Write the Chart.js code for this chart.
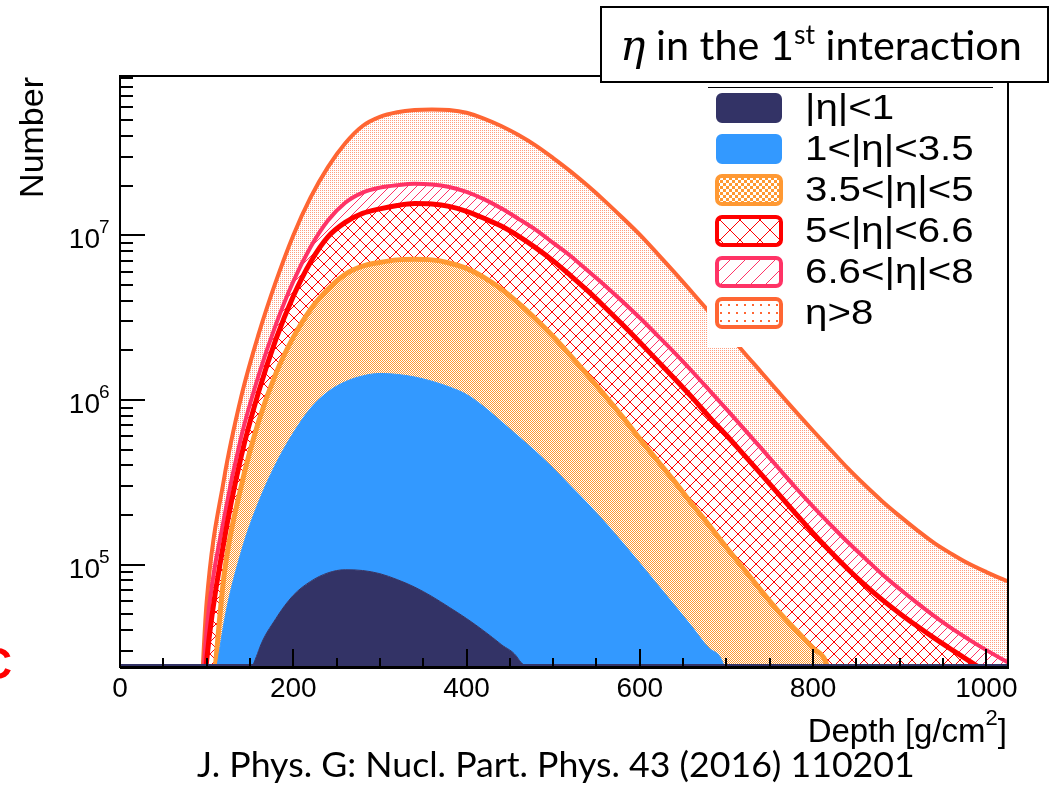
<!DOCTYPE html>
<html>
<head>
<meta charset="utf-8">
<script src="https://cdn.jsdelivr.net/npm/chart.js@4.4.1/dist/chart.umd.min.js"></script>
<style>
html, body { margin: 0; padding: 0; background: #fff; }
canvas { display: block; }
</style>
</head>
<body>
<canvas id="c" width="1050" height="787"></canvas>
<script>
// Shower depth profile, stacked by eta of the 1st interaction (ROOT THStack look)
// Every array below is the stacked (cumulative) curve.
// 1e3 = empty bin, sits below the axis minimum.

const depthBins = [0, 20, 40, 60, 80, 100, 120, 140, 160, 180, 200, 220, 240, 260, 280, 300, 320, 340, 360, 380,
    400, 420, 440, 460, 480, 500, 520, 540, 560, 580, 600, 620, 640, 660, 680, 700, 720, 740, 760, 780,
    800, 820, 840, 860, 880, 900, 920, 940, 960, 980, 1000, 1020, 1040];

const stackEtaLt1 = [1e3, 1e3, 1e3, 1e3, 1e3, 1e3, 1e3, 1.2e4, 3.0e4, 4.7e4, 6.5e4, 7.9e4, 8.9e4, 9.3e4, 9.2e4, 8.8e4, 8.1e4, 7.3e4, 6.4e4, 5.5e4,
    4.7e4, 3.95e4, 3.27e4, 2.66e4, 1.5e4, 1e3, 1e3, 1e3, 1e3, 1e3, 1e3, 1e3, 1e3, 1e3, 1e3, 1e3, 1e3, 1e3, 1e3, 1e3,
    1e3, 1e3, 1e3, 1e3, 1e3, 1e3, 1e3, 1e3, 1e3, 1e3, 1e3, 1e3, 1e3];

const stackEtaLt3p5 = [1e3, 1e3, 1e3, 1e3, 1e3, 8e3, 4.4e4, 1.2e5, 2.4e5, 4.1e5, 6.3e5, 8.9e5, 1.12e6, 1.29e6, 1.4e6, 1.45e6, 1.43e6, 1.38e6, 1.3e6, 1.2e6,
    1.08e6, 9.1e5, 7.4e5, 6.0e5, 4.85e5, 3.85e5, 3.0e5, 2.34e5, 1.8e5, 1.36e5, 1.02e5, 7.6e4, 5.65e4, 4.2e4, 3.1e4, 2.1e4, 1e3, 1e3, 1e3, 1e3,
    1e3, 1e3, 1e3, 1e3, 1e3, 1e3, 1e3, 1e3, 1e3, 1e3, 1e3, 1e3, 1e3];

const stackEtaLt5 = [1e3, 1e3, 1e3, 1e3, 1e3, 6e3, 8.5e4, 3.0e5, 7.4e5, 1.45e6, 2.4e6, 3.55e6, 4.7e6, 5.8e6, 6.5e6, 6.85e6, 7.1e6, 7.15e6, 7.1e6, 6.8e6,
    6.3e6, 5.55e6, 4.72e6, 3.88e6, 3.1e6, 2.43e6, 1.86e6, 1.41e6, 1.06e6, 7.9e5, 5.8e5, 4.3e5, 3.2e5, 2.34e5, 1.73e5, 1.27e5, 9.4e4, 6.95e4, 5.2e4, 4.0e4,
    3.1e4, 2.0e4, 1e3, 1e3, 1e3, 1e3, 1e3, 1e3, 1e3, 1e3, 1e3, 1e3, 1e3];

const stackEtaLt6p6 = [1e3, 1e3, 1e3, 1e3, 1e3, 2.6e4, 1.38e5, 4.57e5, 1.12e6, 2.34e6, 4.27e6, 6.9e6, 9.8e6, 1.2e7, 1.36e7, 1.45e7, 1.52e7, 1.56e7, 1.55e7, 1.5e7,
    1.4e7, 1.27e7, 1.14e7, 9.9e6, 8.4e6, 7.0e6, 5.7e6, 4.6e6, 3.65e6, 2.87e6, 2.24e6, 1.74e6, 1.35e6, 1.04e6, 7.9e5, 6.1e5, 4.65e5, 3.54e5, 2.69e5, 2.04e5,
    1.55e5, 1.2e5, 9.4e4, 7.5e4, 6.1e4, 5.05e4, 4.23e4, 3.57e4, 3.04e4, 2.6e4, 2.23e4, 1.93e4, 1.67e4];

const stackEtaLt8 = [1e3, 1e3, 1e3, 1e3, 1e3, 4.0e4, 1.9e5, 6.0e5, 1.41e6, 2.88e6, 5.25e6, 8.5e6, 1.23e7, 1.58e7, 1.82e7, 1.95e7, 2.02e7, 2.06e7, 2.04e7, 1.97e7,
    1.84e7, 1.66e7, 1.46e7, 1.26e7, 1.08e7, 9.0e6, 7.5e6, 6.1e6, 4.95e6, 3.97e6, 3.16e6, 2.48e6, 1.94e6, 1.5e6, 1.15e6, 8.8e5, 6.7e5, 5.1e5, 3.86e5, 2.93e5,
    2.25e5, 1.75e5, 1.37e5, 1.09e5, 8.7e4, 7.1e4, 5.85e4, 4.86e4, 4.09e4, 3.5e4, 3.02e4, 2.63e4, 2.3e4];

const stackAll = [1e3, 1e3, 1e3, 1e3, 1e3, 5.9e4, 3.3e5, 1.05e6, 2.51e6, 5.25e6, 1.0e7, 1.7e7, 2.6e7, 3.63e7, 4.62e7, 5.25e7, 5.6e7, 5.78e7, 5.83e7, 5.78e7,
    5.56e7, 5.13e7, 4.62e7, 4.07e7, 3.51e7, 2.95e7, 2.45e7, 2.0e7, 1.61e7, 1.28e7, 1.01e7, 7.78e6, 5.96e6, 4.53e6, 3.43e6, 2.59e6, 1.95e6, 1.48e6, 1.12e6, 8.5e5,
    6.5e5, 5.0e5, 3.85e5, 3.03e5, 2.42e5, 1.97e5, 1.62e5, 1.35e5, 1.16e5, 1.01e5, 9.0e4, 8.1e4, 7.4e4];

const legendLabels = ['|η|<1', '1<|η|<3.5', '3.5<|η|<5', '5<|η|<6.6', '6.6<|η|<8', 'η>8'];
const xMajorTicks = [0, 200, 400, 600, 800, 1000];
const xTickLabels = ['0', '200', '400', '600', '800', '1000'];
const yDecades = [5, 6, 7];

const X_MIN = 0, X_MAX = 1025, Y_MIN = 23850, Y_MAX = 9.3e7;

const canvas = document.getElementById('c');
const ctx = canvas.getContext('2d');

function makePattern(size, paint) {
    const c = document.createElement('canvas');
    c.width = size; c.height = size;
    paint(c.getContext('2d'), size);
    return ctx.createPattern(c, 'repeat');
}
function checker(color, cell) {
    return makePattern(cell * 2, g => {
        g.fillStyle = color;
        g.fillRect(0, 0, cell, cell);
        g.fillRect(cell, cell, cell, cell);
    });
}
function crossHatch(color, n) {
    return makePattern(n, g => {
        g.fillStyle = color;
        for (let i = 0; i < n; i++) { g.fillRect(i, i, 1, 1); g.fillRect(n - 1 - i, i, 1, 1); }
    });
}
function slash(color, n) {
    return makePattern(n, g => {
        g.fillStyle = color;
        for (let i = 0; i < n; i++) g.fillRect(n - 1 - i, i, 1, 1);
    });
}
function dots(color, n, d) {
    return makePattern(n, g => { g.fillStyle = color; g.fillRect(0, 0, d, d); });
}

// plot fills are fine, legend fills are coarser (as in the picture)
const plotFills = [
    '#333366', '#3399ff',
    checker('#ff9933', 1),
    crossHatch('#ff0000', 12),
    slash('#ff3366', 9),
    dots('#ff9f80', 2, 1)
];
const legendFills = [
    '#333366', '#3399ff',
    checker('#ff9933', 3),
    crossHatch('#ff0000', 20),
    slash('#ff3366', 15),
    dots('#ff6633', 8, 2)
];
const lineColors = ['#333366', '#3399ff', '#ff9933', '#ff0000', '#ff3366', '#ff6633'];
const lineWidths = [1, 1, 5, 5, 4, 4];
const stacks = [stackEtaLt1, stackEtaLt3p5, stackEtaLt5, stackEtaLt6p6, stackEtaLt8, stackAll];

const datasets = stacks.map((vals, k) => ({
    label: legendLabels[k],
    data: depthBins.map((d, i) => ({ x: d, y: vals[i] })),
    borderColor: lineColors[k],
    backgroundColor: plotFills[k],
    borderWidth: lineWidths[k],
    fill: k === 0 ? 'start' : '-1',
    pointRadius: 0,
    cubicInterpolationMode: 'monotone',
    clip: 0
}));

function richText(g, pieces, x, y, targetWidth) {
    let total = 0;
    pieces.forEach(p => { g.font = p.style + ' ' + p.size + 'px ' + p.family; total += g.measureText(p.t).width; });
    const s = targetWidth ? targetWidth / total : 1;
    let cx = x;
    pieces.forEach(p => {
        g.font = p.style + ' ' + (p.size * s) + 'px ' + p.family;
        g.fillText(p.t, cx, y + (p.dy || 0) * s);
        cx += g.measureText(p.t).width;
    });
}

const rootDecor = {
    id: 'rootDecor',
    afterDatasetsDraw(chart) {
        const g = chart.ctx, a = chart.chartArea;
        // empty bins of the first histogram show up as a line on the axis
        g.save();
        g.fillStyle = '#333366';
        g.fillRect(a.left, a.bottom - 3, a.right - a.left, 3);
        g.restore();
    },
    afterDraw(chart) {
        const g = chart.ctx, a = chart.chartArea;
        const xs = chart.scales.x, ys = chart.scales.y;
        const sans = '"Liberation Sans", Arial, sans-serif';
        g.save();

        // legend background
        g.fillStyle = '#fff';
        g.fillRect(707, 86, a.right - 707, 347 - 86);

        // frame
        g.strokeStyle = '#000';
        g.lineWidth = 2;
        g.strokeRect(a.left, a.top, a.right - a.left, a.bottom - a.top);
        g.fillStyle = '#000';
        g.fillRect(a.left, a.bottom - 1, a.right - a.left + 1, 3);

        // x ticks
        for (let v = 50; v < X_MAX; v += 50) {
            const px = Math.round(xs.getPixelForValue(v));
            const len = xMajorTicks.includes(v) ? 18 : 9;
            g.beginPath(); g.moveTo(px, a.bottom); g.lineTo(px, a.bottom - len); g.stroke();
        }
        g.font = '28px ' + sans;
        g.textAlign = 'center';
        g.textBaseline = 'alphabetic';
        xMajorTicks.forEach((v, i) => g.fillText(xTickLabels[i], xs.getPixelForValue(v), 697));

        // y ticks (log)
        for (let e = 4; e <= 7; e++) {
            for (let m = 1; m <= 9; m++) {
                const v = m * Math.pow(10, e);
                if (v < Y_MIN || v > Y_MAX) continue;
                const py = Math.round(ys.getPixelForValue(v));
                const len = m === 1 ? 25 : 13;
                g.beginPath(); g.moveTo(a.left, py); g.lineTo(a.left + len, py); g.stroke();
            }
        }
        yDecades.forEach(e => {
            const py = ys.getPixelForValue(Math.pow(10, e));
            g.textAlign = 'right';
            g.font = '28px ' + sans;
            g.fillText('10', 100, py + 13);
            g.textAlign = 'left';
            g.font = '19px ' + sans;
            g.fillText(String(e), 99, py - 2);
        });

        // axis titles
        g.save();
        g.translate(43, 77);
        g.rotate(-Math.PI / 2);
        g.textAlign = 'right';
        g.font = '34px ' + sans;
        g.fillText('Number', 0, 0);
        g.restore();

        g.textAlign = 'left';
        const dpieces = [
            { t: 'Depth [g/cm', style: '', size: 33, family: sans },
            { t: '2', style: '', size: 22, family: sans, dy: -17 },
            { t: ']', style: '', size: 33, family: sans }
        ];
        let dw = 0;
        dpieces.forEach(p => { g.font = p.size + 'px ' + p.family; dw += g.measureText(p.t).width; });
        richText(g, dpieces, 1007 - dw, 742);

        // legend
        g.strokeStyle = '#000';
        g.lineWidth = 1;
        g.beginPath(); g.moveTo(708, 87.5); g.lineTo(993, 87.5); g.stroke();
        legendLabels.forEach((lab, k) => {
            const top = 92 + k * 41;
            g.beginPath();
            g.roundRect(717, top + 2, 64, 28, 5);
            g.fillStyle = '#fff';
            g.fill();
            g.fillStyle = legendFills[k];
            g.fill();
            g.strokeStyle = lineColors[k];
            g.lineWidth = k < 2 ? 2 : 4;
            g.stroke();
            g.fillStyle = '#000';
            g.font = '35px ' + sans;
            g.save();
            g.translate(805, top + 27);
            g.scale(1.15, 1);
            g.fillText(lab, 0, 0);
            g.restore();
        });

        // title box
        g.fillStyle = '#fff';
        g.fillRect(601, 7, 447, 75);
        g.strokeStyle = '#000';
        g.lineWidth = 2;
        g.strokeRect(601, 7, 447, 75);
        g.fillStyle = '#000';
        richText(g, [
            { t: 'η', style: 'italic', size: 40, family: '"DejaVu Serif", serif' },
            { t: ' in the 1', style: '', size: 39, family: 'Lato, sans-serif' },
            { t: 'st', style: '', size: 25, family: 'Lato, sans-serif', dy: -15 },
            { t: ' interaction', style: '', size: 39, family: 'Lato, sans-serif' }
        ], 620, 60, 402);

        // citation
        richText(g, [{ t: 'J. Phys. G: Nucl. Part. Phys. 43 (2016) 110201', style: '', size: 32, family: 'Lato, sans-serif' }], 197, 777, 718);

        // red letter cut at the left edge of the slide
        g.fillStyle = '#ff0000';
        g.font = 'bold 44px ' + sans;
        g.textAlign = 'right';
        g.fillText('C', 12, 679);

        g.restore();
    }
};

new Chart(ctx, {
    type: 'line',
    data: { datasets: datasets },
    options: {
        responsive: false,
        animation: false,
        layout: { padding: { left: 120, top: 76, right: 42, bottom: 120 } },
        plugins: { legend: { display: false }, tooltip: { enabled: false } },
        scales: {
            x: { type: 'linear', min: X_MIN, max: X_MAX, display: false },
            y: { type: 'logarithmic', min: Y_MIN, max: Y_MAX, display: false }
        }
    },
    plugins: [rootDecor]
});
</script>
</body>
</html>
